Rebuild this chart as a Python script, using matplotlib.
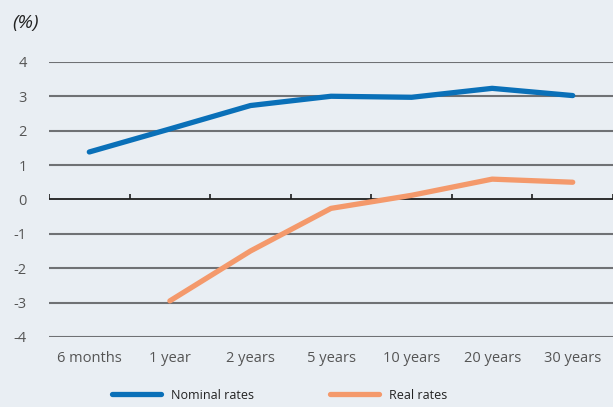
import matplotlib.pyplot as plt
from matplotlib.lines import Line2D

categories = ['6 months', '1 year', '2 years', '5 years', '10 years', '20 years', '30 years']
nominal = [1.38, 2.05, 2.73, 3.0, 2.97, 3.23, 3.02]
real = [None, -2.95, -1.5, -0.26, 0.12, 0.59, 0.5]
y_ticks = [4, 3, 2, 1, 0, -1, -2, -3, -4]

bg = '#e9eef3'
blue = '#0a70b8'
orange = '#f4996b'

plt.rcParams['font.family'] = ['Open Sans', 'DejaVu Sans']

fig = plt.figure(figsize=(6.13, 4.07), dpi=100, facecolor=bg)
ax = fig.add_axes([0.08, 0.172, 0.92, 0.676])
ax.set_facecolor(bg)

x = list(range(len(categories)))

# horizontal gridlines
for v in y_ticks:
    ax.axhline(v, color='#1e1e1e' if v == 0 else '#6f7174', lw=1.3 if v == 0 else 1.5, zorder=1)

# small ticks on the zero line between categories
bounds = [i - 0.5 for i in range(len(categories) + 1)]
ax.vlines(bounds, 0, 0.17, color='#1e1e1e', lw=1.2, zorder=1)

ax.plot(x, nominal, color=blue, lw=3.8, solid_capstyle='round', zorder=3)
rx = [i for i, v in zip(x, real) if v is not None]
ry = [v for v in real if v is not None]
ax.plot(rx, ry, color=orange, lw=3.8, solid_capstyle='round', zorder=3)

ax.set_xlim(-0.5, 6.5)
ax.set_ylim(-4, 4)
ax.set_yticks(y_ticks)
ax.set_yticklabels([str(v) for v in y_ticks])
ax.set_xticks(x)
ax.set_xticklabels(categories)
ax.tick_params(axis='both', length=0, labelsize=10.5, colors='#555555')
ax.tick_params(axis='y', pad=16)
ax.tick_params(axis='x', pad=10)
for s in ax.spines.values():
    s.set_visible(False)

fig.text(0.02, 0.93, '(%)', fontsize=14, style='italic', color='#222222')

handles = [Line2D([], [], color=blue, lw=3.8, solid_capstyle='round'),
           Line2D([], [], color=orange, lw=3.8, solid_capstyle='round')]
fig.legend(handles, ['Nominal rates', 'Real rates'], loc='lower center',
           bbox_to_anchor=(0.456, -0.015), ncol=2, frameon=False, fontsize=9,
           handlelength=3.9, columnspacing=6.1, handletextpad=0.8,
           labelcolor='#222222')

fig.savefig('out.png', dpi=100, facecolor=bg)
